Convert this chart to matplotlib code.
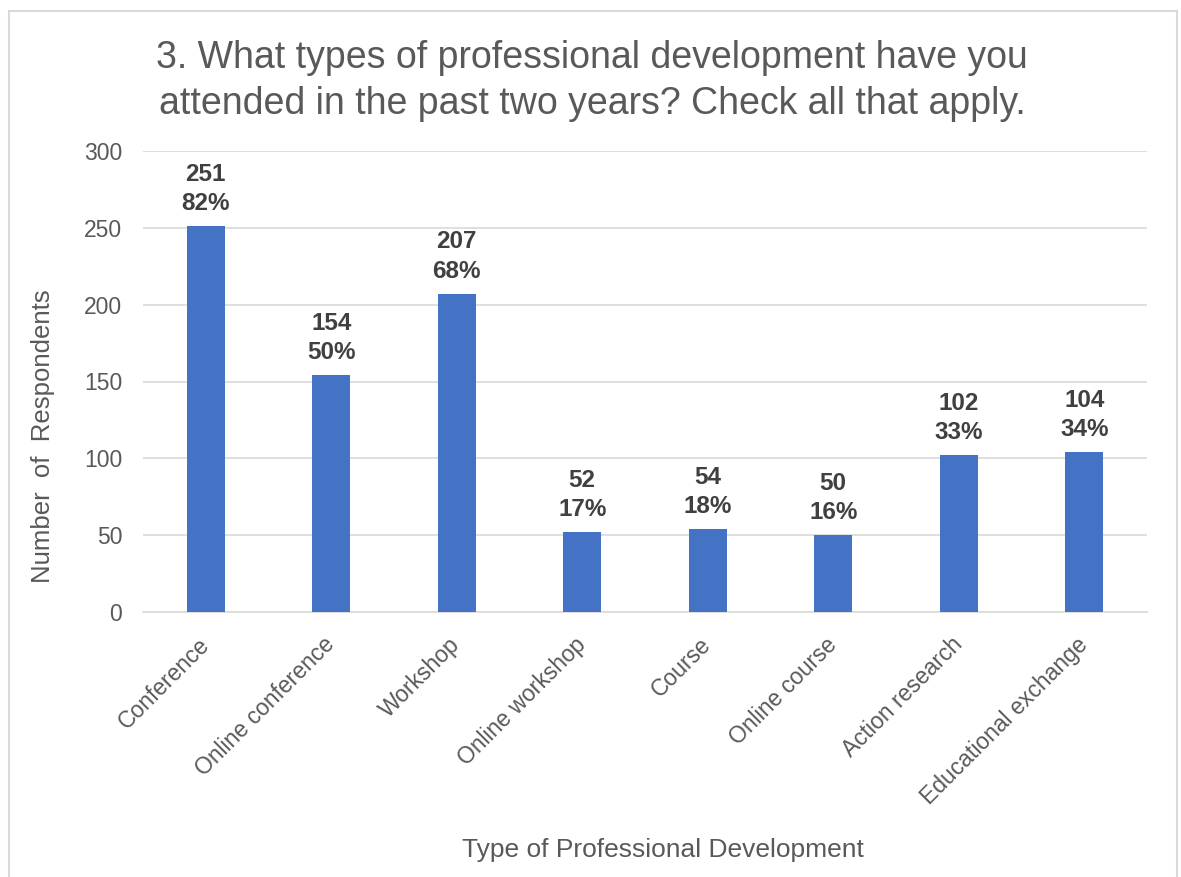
import matplotlib.pyplot as plt
from matplotlib.patches import Rectangle

categories = ["Conference", "Online conference", "Workshop", "Online workshop",
              "Course", "Online course", "Action research", "Educational exchange"]
counts = [251, 154, 207, 52, 54, 50, 102, 104]
percents = [82, 50, 68, 17, 18, 16, 33, 34]
y_ticks = [0, 50, 100, 150, 200, 250, 300]

plt.rcParams['font.family'] = ['Liberation Sans', 'DejaVu Sans']

fig = plt.figure(figsize=(11.81, 8.77), dpi=100)
fig.patch.set_facecolor('white')

# light frame around the chart
fig.add_artist(Rectangle((9 / 1181, -0.05), (1177 - 9) / 1181, 1.05 - 11 / 877,
                         transform=fig.transFigure, fill=False,
                         edgecolor='#d9d9d9', linewidth=1.5))

ax = fig.add_axes([143 / 1181, 1 - 612 / 877, (1147 - 143) / 1181, (612 - 151) / 877])

x = range(len(categories))
ax.bar(x, counts, width=0.30, color='#4472C4', zorder=3)

for i, (c, p) in enumerate(zip(counts, percents)):
    ax.annotate(f"{c}\n{p}%", (i, c), xytext=(0, 8), textcoords='offset points',
                ha='center', va='bottom', fontsize=17.5, fontweight='bold',
                color='#404040', linespacing=1.35)

ax.set_xlim(-0.5, len(categories) - 0.5)
ax.set_ylim(0, 300)
ax.set_yticks(y_ticks)
ax.set_xticks(list(x))
ax.set_xticklabels(categories, rotation=45, ha='right', va='center',
                   rotation_mode='anchor', fontsize=16.5, color='#595959')
ax.tick_params(axis='y', labelsize=16.5, labelcolor='#595959', length=0, pad=15)
ax.tick_params(axis='x', length=0, pad=21)
ax.grid(axis='y', color='#d9d9d9', linewidth=1.2, zorder=0)
for side in ['top', 'right', 'left']:
    ax.spines[side].set_visible(False)
ax.spines['bottom'].set_color('#d9d9d9')
ax.spines['bottom'].set_linewidth(1.2)

# axis titles
fig.text(43 / 1181, 1 - 436 / 877, "Number  of  Respondents", rotation=90,
         ha='center', va='center', fontsize=18.5, color='#595959')
fig.text(663 / 1181, 1 - 850 / 877, "Type of Professional Development",
         ha='center', va='center', fontsize=19, color='#595959')

fig.text(592 / 1181, 1 - 81 / 877,
         "3. What types of professional development have you\nattended in the past two years? Check all that apply.",
         ha='center', va='center', fontsize=27, color='#595959', linespacing=1.38)

fig.savefig('out.png', dpi=100)
